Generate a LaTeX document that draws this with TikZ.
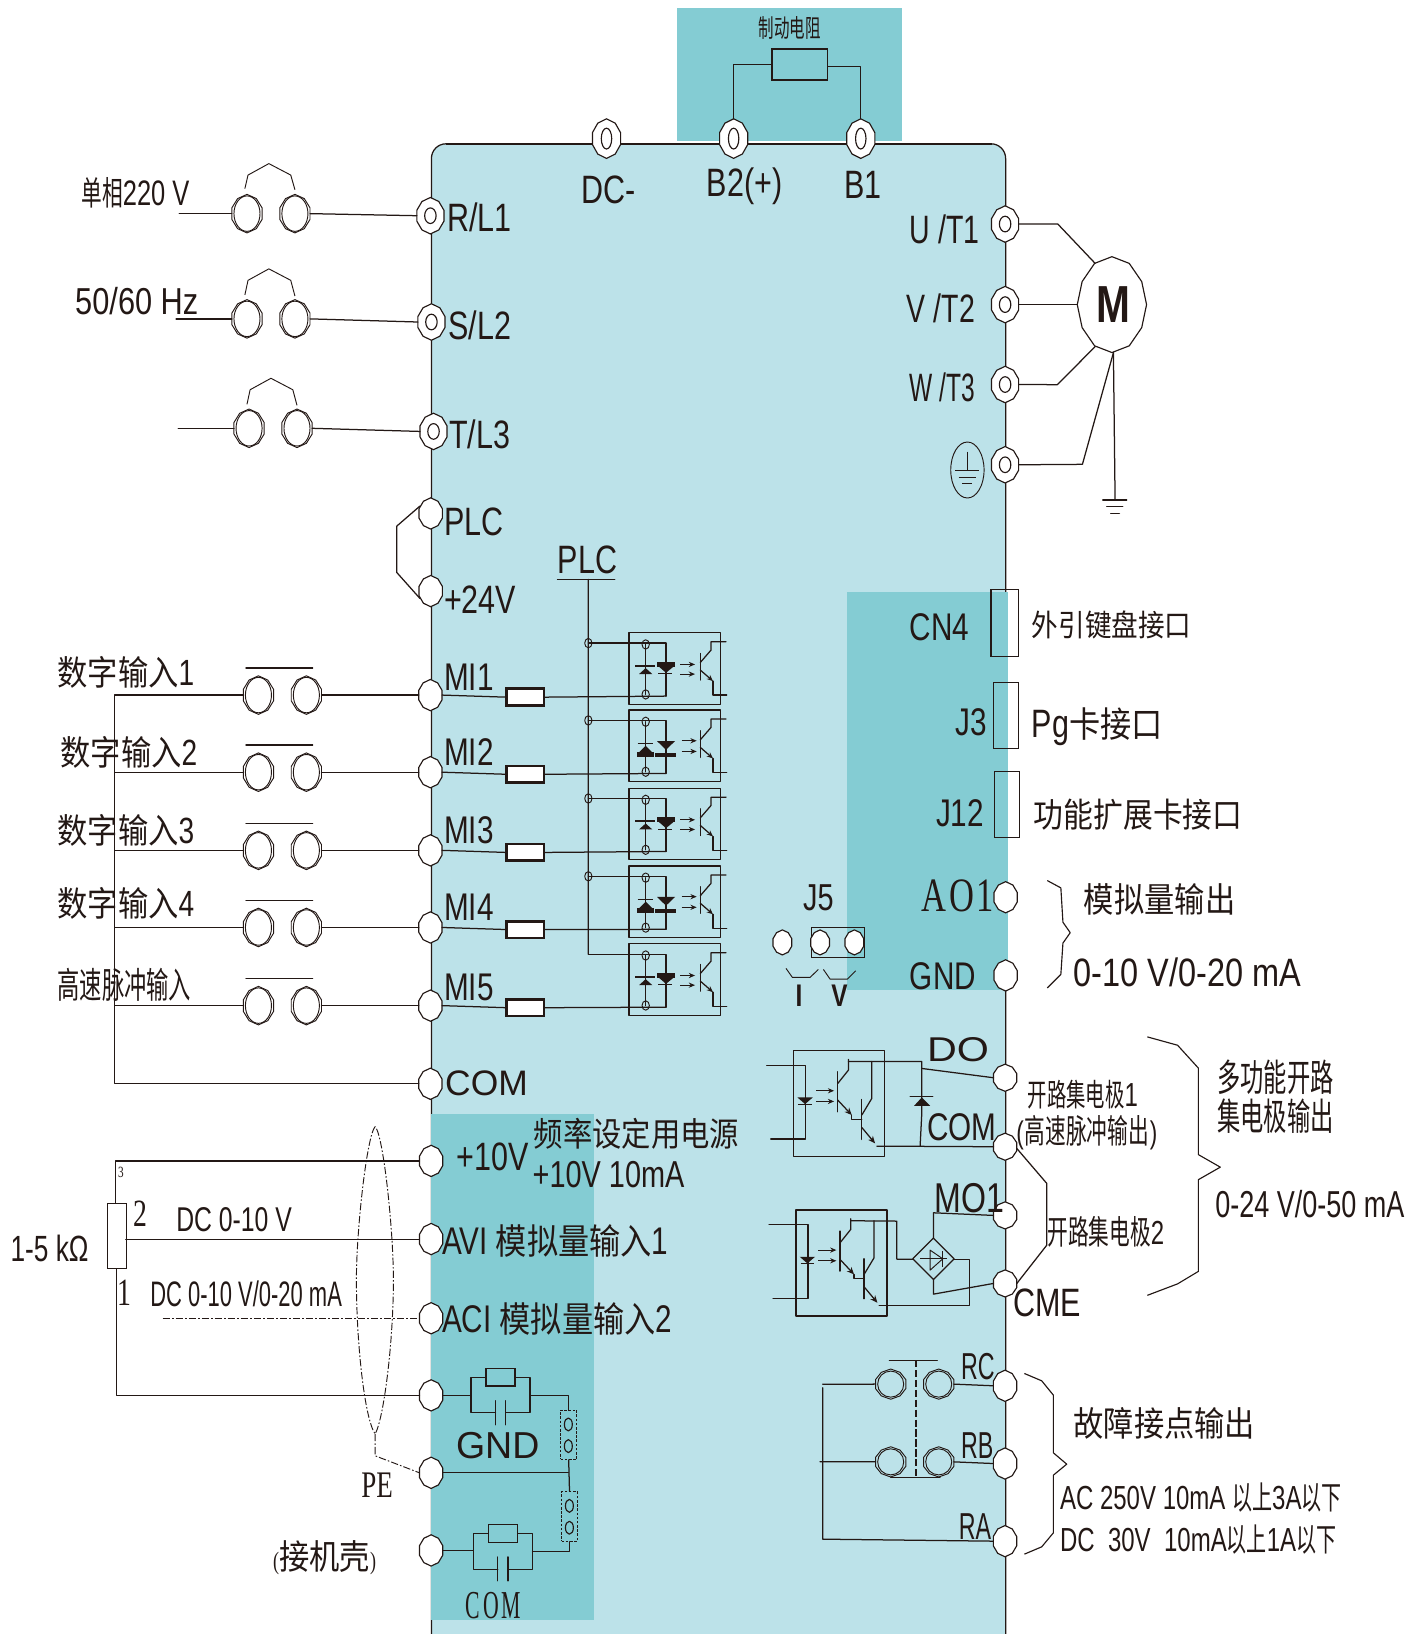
\documentclass[tikz,border=0pt]{standalone}
\usepackage{fontspec}
\usetikzlibrary{arrows.meta,shapes.geometric,calc}
\setmainfont{Liberation Sans}
\newfontfamily\fa{Liberation Sans}[FakeStretch=0.77]
\newfontfamily\fc{Liberation Sans}[FakeStretch=0.72]
\newfontfamily\fd{Liberation Sans}[FakeStretch=0.62]
\newfontfamily\fe{Liberation Sans}[FakeStretch=0.82]
\newfontfamily\fw{Liberation Sans}
\newfontfamily\fww{Liberation Sans}[FakeStretch=1.2]
\newfontfamily\fb{Liberation Sans Bold}[FakeStretch=0.78]
\newfontfamily\fs{Liberation Serif}[FakeStretch=0.72]
\newfontfamily\fsn{Liberation Serif}[FakeStretch=0.55]
\newfontfamily\fz{Noto Sans CJK SC}[FakeStretch=0.88]
\newfontfamily\fn{Noto Sans CJK SC}[FakeStretch=0.62]
\newcommand\sz[1]{\fontsize{#1}{#1}\selectfont}
\definecolor{ink}{HTML}{231815}
\definecolor{bodyc}{HTML}{BCE2E9}
\definecolor{tealc}{HTML}{84CCD3}
\makeatletter
\newdimen\trx \newdimen\try
\pgfdeclareshape{decagon}{
  \inheritsavedanchors[from=ellipse]
  \inheritanchorborder[from=ellipse]
  \inheritanchor[from=ellipse]{center}
  \inheritanchor[from=ellipse]{north}
  \inheritanchor[from=ellipse]{south}
  \inheritanchor[from=ellipse]{east}
  \inheritanchor[from=ellipse]{west}
  \backgroundpath{
    \radius \trx=\pgf@x \try=\pgf@y
    \pgfpathmoveto{\pgfqpoint{0pt}{\try}}
    \pgfpathlineto{\pgfpoint{.62\trx}{.78\try}}
    \pgfpathlineto{\pgfpoint{\trx}{.3\try}}
    \pgfpathlineto{\pgfpoint{\trx}{-.3\try}}
    \pgfpathlineto{\pgfpoint{.62\trx}{-.78\try}}
    \pgfpathlineto{\pgfqpoint{0pt}{-\try}}
    \pgfpathlineto{\pgfpoint{-.62\trx}{-.78\try}}
    \pgfpathlineto{\pgfpoint{-\trx}{-.3\try}}
    \pgfpathlineto{\pgfpoint{-\trx}{.3\try}}
    \pgfpathlineto{\pgfpoint{-.62\trx}{.78\try}}
    \pgfpathclose
  }
}
\pgfdeclareshape{dodecagon}{
  \inheritsavedanchors[from=ellipse]
  \inheritanchorborder[from=ellipse]
  \inheritanchor[from=ellipse]{center}
  \inheritanchor[from=ellipse]{north}
  \inheritanchor[from=ellipse]{south}
  \inheritanchor[from=ellipse]{east}
  \inheritanchor[from=ellipse]{west}
  \backgroundpath{
    \radius \trx=\pgf@x \try=\pgf@y
    \pgfpathmoveto{\pgfqpoint{0pt}{\try}}
    \pgfpathlineto{\pgfpoint{.5\trx}{.86\try}}
    \pgfpathlineto{\pgfpoint{.86\trx}{.48\try}}
    \pgfpathlineto{\pgfpoint{\trx}{0pt}}
    \pgfpathlineto{\pgfpoint{.86\trx}{-.48\try}}
    \pgfpathlineto{\pgfpoint{.5\trx}{-.86\try}}
    \pgfpathlineto{\pgfqpoint{0pt}{-\try}}
    \pgfpathlineto{\pgfpoint{-.5\trx}{-.86\try}}
    \pgfpathlineto{\pgfpoint{-.86\trx}{-.48\try}}
    \pgfpathlineto{\pgfpoint{-\trx}{0pt}}
    \pgfpathlineto{\pgfpoint{-.86\trx}{.48\try}}
    \pgfpathlineto{\pgfpoint{-.5\trx}{.86\try}}
    \pgfpathclose
  }
}
\makeatother
\tikzset{
  wire/.style={draw=ink,line width=1.2pt,line cap=round,line join=round},
  thin wire/.style={draw=ink,line width=.9pt,line join=round},
  term/.style={decagon,draw=ink,fill=white,line width=1.1pt,inner sep=0pt,outer sep=0pt,minimum width=22.4pt,minimum height=30pt},
  rterm/.style={term,minimum width=26pt,minimum height=35pt},
  brk/.style={decagon,draw=ink,line width=.9pt,inner sep=0pt,outer sep=0pt,minimum width=29pt,minimum height=37pt},
  lb/.style={anchor=west,inner sep=0pt,text=ink},
  ctr/.style={anchor=center,inner sep=0pt,text=ink},
  minires/.style={rectangle,draw=ink,fill=white,line width=2.6pt,inner sep=0pt,outer sep=0pt,minimum width=36pt,minimum height=16pt},
  boxr/.style={rectangle,draw=ink,line width=1.2pt,inner sep=0pt,outer sep=0pt},
  arr/.style={-{Stealth[length=6pt,width=5pt]},draw=ink,line width=.9pt},
  dotdash/.style={draw=ink,line width=.9pt,dash pattern=on 7pt off 2pt on 1.5pt off 2pt},
  sw/.style={draw=ink,line width=.9pt,dashed,dash pattern=on 2.5pt off 1.5pt},
  optoA/.pic={
    \begin{scope}[x=.3199pt,y=-.3199pt]
      \draw[wire] (0,0) rectangle (274,215);
      \coordinate (-in) at (111,190);
      \coordinate (-bus) at (-122,31);
      \draw[wire] (-bus) -- (111,31) -- (-in);
      \draw[wire] (50,35) -- (50,185);
      \draw[thin wire] (50,35) ellipse (11 and 14);
      \draw[thin wire] (50,185) ellipse (11 and 14);
      \fill[ink] (19,96) rectangle (78,102);
      \fill[ink] (50,106) -- (70,124) -- (30,124) -- cycle;
      \fill[ink] (85,87) rectangle (137,102);
      \fill[ink] (90,102) -- (133,102) -- (111,120) -- cycle;
      \draw[thin wire] (88,123) -- (130,123);
      \draw[arr] (153,95) -- (198,95);
      \draw[arr] (153,124) -- (198,124);
      \draw[wire] (214,62) -- (214,142);
      \draw[wire] (214,89) -- (246,52) -- (246,27) -- (291,27);
      \draw[wire,-{Stealth[length=6pt,width=5pt]}] (214,112) -- (252,145);
      \draw[wire] (252,145) -- (252,187) -- (293,187);
    \end{scope}
  },
  optoB/.pic={
    \begin{scope}[x=.3199pt,y=-.3199pt]
      \draw[wire] (0,0) rectangle (274,215);
      \coordinate (-in) at (111,190);
      \coordinate (-bus) at (-122,31);
      \draw[wire] (-bus) -- (111,31) -- (-in);
      \draw[wire] (50,35) -- (50,185);
      \draw[thin wire] (50,35) ellipse (11 and 14);
      \draw[thin wire] (50,185) ellipse (11 and 14);
      \draw[thin wire] (26,99) -- (73,99);
      \fill[ink] (50,107) -- (70,127) -- (30,127) -- cycle;
      \fill[ink] (24,127) rectangle (75,141);
      \fill[ink] (84,93) -- (138,93) -- (111,119) -- cycle;
      \fill[ink] (79,129) rectangle (141,141);
      \draw[arr] (158,92) -- (203,92);
      \draw[arr] (158,124) -- (203,124);
      \draw[wire] (214,62) -- (214,142);
      \draw[wire] (214,89) -- (246,52) -- (246,27) -- (291,27);
      \draw[wire,-{Stealth[length=6pt,width=5pt]}] (214,112) -- (252,145);
      \draw[wire] (252,145) -- (252,187) -- (293,187);
    \end{scope}
  },
  darl/.pic={
    \begin{scope}[x=.3199pt,y=-.3199pt]
      \draw[wire] (0,0) rectangle (273,318);
      \draw[wire] (-81,44) -- (36,44) -- (36,265) -- (-69,265);
      \fill[ink] (11,140) -- (57,140) -- (34,160) -- cycle;
      \draw[thin wire] (14,161) -- (54,161);
      \draw[arr] (67,120) -- (121,120);
      \draw[arr] (67,152) -- (121,152);
      \draw[wire] (132,63) -- (132,183);
      \draw[wire] (132,98) -- (164,58) -- (164,26);
      \coordinate (-c) at (164,32);
      \draw[wire] (234,32) -- (234,143) -- (204,193);
      \draw[wire,-{Stealth[length=7pt,width=6pt]}] (132,148) -- (174,193);
      \draw[wire] (174,193) -- (174,206) -- (204,206);
      \draw[wire] (204,146) -- (204,266);
      \draw[wire,-{Stealth[length=7pt,width=6pt]}] (204,230) -- (244,278);
      \coordinate (-e) at (249,286);
    \end{scope}
  }
}
\newcommand\ringterm[3]{%
  \node[rterm] (#1) at (#2,#3) {};
  \draw[thin wire,line width=1.1pt] (#1.center) ellipse (5.5 and 7.5);}
\newcommand\topterm[3]{%
  \node[rterm,minimum width=27pt,minimum height=38pt] (#1) at (#2,#3) {};
  \draw[thin wire,line width=1.1pt] (#1.center) ellipse (5 and 10);}
\newcommand\breaker[3]{%
  \node[brk] (#1) at (#2,#3) {};
  \draw[thin wire] (#1.center) ellipse (12.5 and 17);}
\newcommand\contact[3]{%
  \node[brk,minimum width=29pt,minimum height=29pt] (#1) at (#2,#3) {};
  \draw[thin wire] (#1.center) ellipse (12.5 and 12.5);}
\begin{document}
\begin{tikzpicture}[x=1pt,y=-1pt]
\useasboundingbox (0,0) rectangle (1363,1568);
\clip (0,0) rectangle (1363,1568);
\fill[white] (0,0) rectangle (1363,1568);
% ---------- panels
\draw[wire,fill=bodyc,rounded corners=14pt] (414,138) rectangle (965,1582);
\draw[draw=ink,line width=2pt] (428,138) -- (952,138);
\fill[tealc] (650,8) rectangle (866,135);
\fill[tealc] (813,568) rectangle (967,950);
\fill[tealc] (414,1069) rectangle (570,1555);
% ---------- top terminals and brake resistor
\topterm{dcm}{582}{133}
\topterm{btwo}{704}{133}
\topterm{bone}{826}{133}
\node[rectangle,draw=ink,line width=1.6pt,inner sep=0pt,minimum width=53pt,minimum height=30pt] (bres) at (767.5,62) {};
\draw[wire] (btwo.north) |- ($(bres.west)+(0,0)$);
\draw[wire] (bone.north) |- ($(bres.east)+(0,2)$);
\node[ctr,font=\fn\sz{24}] (tbres) at (758,27) {制动电阻};
\node[lb,font=\fa\sz{38}] (tdc) at (558,182) {DC-};
\node[lb,font=\fa\sz{38}] (tb2) at (678,179) {B2(+)};
\node[lb,font=\fa\sz{38}] (tb1) at (810,177) {B1};
% ---------- mains input
\ringterm{rl}{413}{207}
\ringterm{sl}{414}{309}
\ringterm{tl}{416}{414}
\breaker{a1}{237}{205}\breaker{a2}{283}{205}
\breaker{b1}{237}{306}\breaker{b2}{283}{306}
\breaker{c1}{239}{411}\breaker{c2}{285}{411}
\coordinate (ain) at (172,205);\coordinate (bin) at (169,306);\coordinate (cin) at (171,411);
\draw[wire] (ain) -- (a1.west); \draw[wire] (a2.east) -- (rl.west);
\draw[wire] (bin) -- (b1.west); \draw[wire] (b2.east) -- (sl.west);
\draw[wire] (cin) -- (c1.west); \draw[wire] (c2.east) -- (tl.west);
\draw[thin wire] (235,181) -- (238,168) -- (258,157) -- (279,168) -- (283,182);
\draw[thin wire] (235,283) -- (238,269) -- (258,258) -- (279,269) -- (283,284);
\draw[thin wire] (237,388) -- (240,374) -- (260,363) -- (281,374) -- (285,389);
\node[lb,font=\fc\sz{34}] (t220) at (78,185) {{\fn\sz{32}单相}220 V};
\node[lb,font=\fe\sz{36}] (t50) at (72,289) {50/60 Hz};
\node[lb,font=\fa\sz{38}] (trl) at (429,209) {R/L1};
\node[lb,font=\fa\sz{38}] (tsl) at (430,312) {S/L2};
\node[lb,font=\fa\sz{38}] (ttl) at (431,417) {T/L3};
% ---------- PLC jumper
\node[term] (plc) at (413.3,492.7) {};
\node[term] (p24) at (413.3,567.2) {};
\draw[wire] (403,485.6) -- (380.7,504.9) -- (380.7,549.3) -- (403,574.3);
\node[lb,font=\fa\sz{38}] (tplc) at (426,501) {PLC};
\node[lb,font=\fa\sz{38}] (t24) at (426,575) {+24V};
% ---------- digital inputs
\foreach \n/\yy/\ry in {1/667/669,2/741/743,3/816/818,4/890/892,5/965/967}{
  \node[term] (m\n) at (413,\yy) {};
  \breaker{i\n}{248}{\yy}
  \breaker{j\n}{294}{\yy}
  \node[minires] (r\n) at (504,\ry) {};
  \draw[wire] (j\n.east) -- (m\n.west);
  \draw[wire] (m\n.east) -- (r\n.west);
  \coordinate (ll\n) at (110,\yy);
  \draw[wire] (ll\n) -- (i\n.west);
  \coordinate (ba\n) at (236,\yy-26);
  \coordinate (bb\n) at (300,\yy-26);
  \draw[wire] (ba\n) -- (bb\n);
}
\pic (o1) at (603.6,607.2) {optoA};
\pic (o2) at (603.6,681.4) {optoB};
\pic (o3) at (603.6,756.3) {optoA};
\pic (o4) at (603.6,831) {optoB};
\pic (o5) at (603.6,905.7) {optoA};
\foreach \n in {1,...,5}{\draw[wire] (r\n.east) -- (o\n-in);}
\coordinate (plcbar) at (564.6,556);
\draw[wire] (plcbar) -- (o5-bus);
\draw[wire] (535,556) -- (590,556);
\foreach \n in {1,...,4}{\draw[thin wire] (o\n-bus) ellipse (3.5 and 4.5);}
\node[lb,font=\fa\sz{38}] (tplcb) at (535,537) {PLC};
\foreach \n/\yy in {1/650,2/722,3/797,4/871,5/948}{
  \node[lb,font=\fa\sz{37}] (tm\n) at (426,\yy) {MI\n};
}
\node[lb,font=\fa\sz{35}] (tin1) at (55,645) {{\fz\sz{33}数字输入}1};
\node[lb,font=\fa\sz{35}] (tin2) at (58,722) {{\fz\sz{33}数字输入}2};
\node[lb,font=\fa\sz{35}] (tin3) at (55,797) {{\fz\sz{33}数字输入}3};
\node[lb,font=\fa\sz{35}] (tin4) at (55,867) {{\fz\sz{33}数字输入}4};
\node[lb,font=\fn\sz{34.5}] (tin5) at (55,945) {高速脉冲输入};
\node[term] (comt) at (413,1040) {};
\draw[wire] (ll1) -- (110,1040) -- (comt.west);
\node[lb,font=\fw\sz{34}] (tcom) at (427,1040) {COM};
% ---------- analog inputs
\node[term] (ten) at (413.7,1114) {};
\node[term] (avi) at (413.7,1189) {};
\node[term] (aci) at (413.7,1265) {};
\node[term] (gnd) at (413.7,1339) {};
\node[term] (pe) at (413.7,1413.3) {};
\node[term] (com) at (413.7,1487.8) {};
\node[rectangle,draw=ink,line width=1.1pt,inner sep=0pt,minimum width=18.5pt,minimum height=63pt] (pot) at (112,1186) {};
\draw[wire] (ten.west) -| (110.8,1154.5);
\draw[wire,line width=.9pt] (avi.west) -- (120.5,1189);
\draw[wire] (112,1217.5) |- (gnd.west);
\coordinate (acis) at (156,1265);
\draw[dotdash] (acis) -- (aci.west);
\draw[dotdash] (360,1081) .. controls (352,1090) and (342,1180) .. (342,1228) .. controls (342,1290) and (350,1362) .. (360,1376) .. controls (368,1362) and (377.5,1290) .. (377.5,1228) .. controls (377.5,1180) and (368,1090) .. (360,1081);
\draw[dotdash] (360,1376) -- (360,1397) -- (pe.west);
\node[ctr,font=\fs\sz{15}] (t3) at (116,1125) {3};
\node[ctr,font=\fs\sz{37}] (t2) at (135,1165) {2};
\node[ctr,font=\fs\sz{37}] (t1) at (119,1241) {1};
\node[lb,font=\fc\sz{35}] (tk) at (10,1198) {1-5 kΩ};
\node[lb,font=\fc\sz{33}] (tdc1) at (169,1170) {DC 0-10 V};
\node[lb,font=\fd\sz{34}] (tdc2) at (144,1242) {DC 0-10 V/0-20 mA};
\node[ctr,font=\fs\sz{36}] (tpe) at (362,1425) {PE};
\node[lb,font=\fs\sz{24}] (tke) at (262,1495) {({\fz\sz{33}接机壳})};
\node[lb,font=\fa\sz{38}] (t10) at (438,1110) {+10V};
\node[lb,font=\fz\sz{32}] (tpow) at (512,1088) {频率设定用电源};
\node[lb,font=\fa\sz{36}] (t10m) at (511,1127) {+10V 10mA};
\node[lb,font=\fa\sz{37}] (tavi) at (424,1191) {AVI {\fz\sz{34}模拟量输入}1};
\node[lb,font=\fa\sz{37}] (taci) at (424,1266) {ACI {\fz\sz{34}模拟量输入}2};
% RC networks and shorting links
\node[rectangle,draw=ink,line width=1.3pt,inner sep=0pt,minimum width=27.8pt,minimum height=17pt] (rg) at (480.3,1321.5) {};
\node[rectangle,draw=ink,line width=1.3pt,inner sep=0pt,minimum width=27.8pt,minimum height=17pt] (rc) at (482.6,1471.5) {};
\draw[wire] (gnd.east) -- (452,1339);
\draw[wire] (rg.west) -- (452,1321.5) -- (452,1355.7) -- (475.4,1355.7);
\draw[wire] (rg.east) -- (508.6,1321.5) -- (508.6,1355.7) -- (485.3,1355.7);
\draw[wire] (475.4,1344.2) -- (475.4,1367.2);
\draw[wire] (485.3,1344.2) -- (485.3,1367.2);
\draw[wire] (com.east) -- (454.2,1487.8);
\draw[wire] (rc.west) -- (454.2,1471.5) -- (454.2,1505.8) -- (477.6,1505.8);
\draw[wire] (rc.east) -- (510.9,1471.5) -- (510.9,1505.8) -- (487.5,1505.8);
\draw[wire] (477.6,1494) -- (477.6,1517);
\draw[wire] (487.5,1494) -- (487.5,1517);
\node[rectangle,sw,inner sep=0pt,minimum width=15.3pt,minimum height=47.3pt] (l1) at (545.7,1376.8) {};
\node[rectangle,sw,inner sep=0pt,minimum width=15pt,minimum height=47.4pt] (l2) at (546.5,1455.2) {};
\draw[thin wire,line width=1.1pt] (545.4,1366.9) ellipse (3.8 and 6.2);
\draw[thin wire,line width=1.1pt] (545.4,1387.7) ellipse (3.8 and 6.2);
\draw[thin wire,line width=1.1pt] (546.4,1445) ellipse (3.8 and 6.2);
\draw[thin wire,line width=1.1pt] (546.4,1466) ellipse (3.8 and 6.2);
\draw[wire] (508.6,1339.4) -| (l1.north);
\draw[wire] (pe.east) -- (545.4,1413.3);
\draw[wire] (l1.south) -- (l2.north);
\draw[wire] (l2.south) |- (510.9,1489);
\node[ctr,font=\fw\sz{36}] (tgnd) at (477.6,1386.7) {GND};
\node[ctr,font=\fsn\sz{38}] (tcomb) at (473.4,1541) {C\kern3pt O\kern3pt M};
% ---------- motor side
\ringterm{ut}{964.5}{215}
\ringterm{vt}{964.5}{292.3}
\ringterm{wt}{964.5}{369}
\ringterm{et}{964.5}{446}
\node[dodecagon,draw=ink,fill=white,line width=1.1pt,inner sep=0pt,outer sep=0pt,minimum width=66.5pt,minimum height=92pt] (mot) at (1067,292.3) {};
\node[ctr,font=\fb\sz{50}] (tmot) at (1068,292.3) {M};
\begin{scope}[shift={(863.7,172.7)},x=.3199pt,y=-.3199pt]
  \coordinate (mu) at (585,250);\coordinate (mw) at (585,500);\coordinate (mb) at (640,518);
  \coordinate (gd) at (645,958);
  \draw[wire] (ut.east) -- (473,132) -- (mu);
  \draw[wire] (vt.east) -- (mot.west);
  \draw[wire] (wt.east) -- (472,614) -- (mw);
  \draw[wire] (et.east) -- (547,853) -- (mb);
  \draw[wire] (mb) -- (gd);
  \draw[wire] (608,960) -- (680,960);
  \draw[wire] (620,980) -- (668,980);
  \draw[wire] (632,1000) -- (658,1000);
  \draw[thin wire] (202,870) ellipse (50 and 84);
  \draw[thin wire] (202,815) -- (202,870);
  \draw[thin wire] (166,872) -- (238,872);
  \draw[thin wire] (176,892) -- (228,892);
  \draw[thin wire] (187,911) -- (215,911);
\end{scope}
\node[lb,font=\fc\sz{38}] (tu) at (873,220) {U /T1};
\node[lb,font=\fc\sz{38}] (tv) at (870,296) {V /T2};
\node[lb,font=\fd\sz{38}] (tw) at (873,372) {W /T3};
% ---------- card connectors
\node[boxr,fill=none,minimum width=26pt,minimum height=64pt] (cn) at (964,598) {};
\node[boxr,minimum width=24pt,minimum height=63pt] (j3) at (965,686.5) {};
\node[boxr,minimum width=24pt,minimum height=64pt] (j12) at (966,772) {};
\node[lb,font=\fa\sz{37}] (tcn) at (873,602) {CN4};
\node[lb,font=\fa\sz{37}] (tj3) at (917,693) {J3};
\node[lb,font=\fa\sz{37}] (tj12) at (898,780) {J12};
\node[lb,font=\fz\sz{29}] (tcnz) at (990,600) {外引键盘接口};
\node[lb,font=\fa\sz{38}] (tj3z) at (990,697) {Pg{\fz\sz{34}卡接口}};
\node[lb,font=\fz\sz{32.5}] (tj12z) at (992,782) {功能扩展卡接口};
\node[term] (aot) at (965,861) {};
\node[term] (gt) at (965,936) {};
\node[lb,font=\fs\sz{46}] (tao) at (884,860) {A\kern3pt O\kern2pt 1};
\node[lb,font=\fa\sz{37}] (tgt) at (873,937) {GND};
\draw[thin wire,line width=1.1pt] (1005,845) -- (1018,852) -- (1020,885) -- (1027,895) -- (1020,905) -- (1018,935) -- (1005,948);
\node[lb,font=\fz\sz{33}] (tao1) at (1040,863) {模拟量输出};
\node[lb,font=\fe\sz{38}] (tao2) at (1030,933) {0-10 V/0-20 mA};
% ---------- J5
\begin{scope}[shift={(537.4,575.8)},x=.3199pt,y=-.3199pt]
  \node[term,minimum width=18pt,minimum height=24pt] (j5a) at (667,1027) {};
  \node[boxr,minimum width=51pt,minimum height=28.5pt] (j5b) at (833.7,1027.5) {};
  \node[term,minimum width=18pt,minimum height=24pt] (j5c) at (780,1027) {};
  \node[term,minimum width=18pt,minimum height=24pt] (j5d) at (883,1027) {};
  \draw[thin wire] (678,1105) -- (697,1132) -- (750,1132) -- (775,1108);
  \draw[thin wire] (790,1108) -- (810,1137) -- (862,1137) -- (887,1112);
  \node[ctr,font=\fa\sz{36}] (tj5) at (775,893) {J5};
  \node[ctr,font=\fb\sz{30}] (tI) at (717,1188) {I};
  \node[ctr,font=\fb\sz{30}] (tV) at (838,1188) {V};
\end{scope}
% ---------- digital outputs
\node[term,minimum height=26pt] (dot) at (964.5,1034.2) {};
\node[term,minimum height=26pt] (cot) at (964.5,1100.4) {};
\node[term,minimum height=26pt] (mot1) at (964.5,1166.3) {};
\node[term,minimum height=26pt] (cmt) at (964.5,1231.6) {};
\pic (q1) at (761.7,1008.3) {darl};
\pic (q2) at (763.9,1161.2) {darl};
\begin{scope}[shift={(710.2,978.9)},x=.3199pt,y=-.3199pt]
  \coordinate (e1) at (410,378);
  \draw[wire] (q1-c) -- (545,124) -- (545,145);
  \draw[wire] (545,145) -- (dot.west);
  \draw[wire] (545,145) -- (545,280) -- (540,378);
  \draw[wire] (e1) -- (cot.west);
  \draw[wire] (510,230) -- (578,230);
  \fill[ink] (545,232) -- (570,257) -- (522,257) -- cycle;
  \draw[wire] (q2-c) -- (470,603) -- (470,717) -- (518,717);
  \draw[wire,fill=none] (580,654) -- (642,716) -- (580,778) -- (518,716) -- cycle;
  \draw[thin wire] (540,716) -- (620,716);
  \draw[thin wire] (570,690) -- (570,750) -- (608,716) -- cycle;
  \draw[thin wire] (608,692) -- (608,742);
  \draw[wire] (580,654) -- (580,578) -- (mot1.west);
  \draw[wire] (580,778) -- (580,822) -- (cmt.west);
  \draw[wire] (642,718) -- (688,718) -- (688,857) -- (417,857);
  \draw[wire] (830,385) -- (920,490) -- (920,675) -- (830,790);
  \node[ctr,font=\fww\sz{33}] (tdo) at (654,88) {DO};
  \node[ctr,font=\fa\sz{37}] (tco) at (665,321) {COM};
  \node[ctr,font=\fa\sz{40}] (tmo) at (688,535) {MO1};
\end{scope}
\node[lb,font=\fa\sz{38}] (tcme) at (972,1250) {CME};
\node[lb,font=\fc\sz{32}] (to1) at (986,1050) {{\fn\sz{30}开路集电极}1};
\node[lb,font=\fc\sz{30}] (to2) at (975,1087) {(\kern1pt{\fn\sz{32}高速脉冲输出}\kern1pt)};
\node[lb,font=\fc\sz{32}] (to3) at (1005,1182) {{\fn\sz{32}开路集电极}2};
\draw[thin wire,line width=1.1pt] (1101,995) -- (1130,1003) -- (1150,1025) -- (1150,1108) -- (1171,1120) -- (1150,1132) -- (1150,1220) -- (1130,1232) -- (1101,1243);
\node[lb,font=\fn\sz{36}] (to4) at (1168,1034) {多功能开路};
\node[lb,font=\fn\sz{36}] (to5) at (1168,1071) {集电极输出};
\node[lb,font=\fc\sz{36}] (to6) at (1166,1155) {0-24 V/0-50 mA};
% ---------- relay
\node[term] (rct) at (964.4,1329.8) {};
\node[term] (rbt) at (964.4,1404.4) {};
\node[term] (rat) at (964.4,1478.9) {};
\contact{k1}{854.7}{1328.2}\contact{k2}{900.8}{1328.2}
\contact{k3}{854.7}{1402.8}\contact{k4}{900.8}{1402.8}
\begin{scope}[shift={(767.7,1286)},x=.3199pt,y=-.3199pt]
  \coordinate (ka) at (68,132);\coordinate (kb) at (68,143);\coordinate (kc) at (60,365);
  \draw[wire] (ka) -- (k1.west);
  \draw[wire] (kc) -- (k3.west);
  \draw[wire] (kb) -- (68,597) -- (rat.west);
  \draw[wire] (k2.east) -- (rct.west);
  \draw[wire] (k4.east) -- (rbt.west);
  \draw[wire] (268,60) -- (412,60);
  \draw[wire] (272,412) -- (420,412);
  \draw[thin wire,line width=1.1pt,dash pattern=on 7pt off 2.5pt] (348,60) -- (348,408);
  \draw[thin wire,line width=1.1pt] (673,100) -- (725,122) -- (760,165) -- (760,338) -- (800,372) -- (760,405) -- (760,578) -- (725,620) -- (673,642);
\end{scope}
\node[lb,font=\fd\sz{36}] (trc) at (922,1311) {RC};
\node[lb,font=\fd\sz{36}] (trb) at (922,1387) {RB};
\node[lb,font=\fd\sz{36}] (tra) at (920,1465) {RA};
\node[lb,font=\fz\sz{33}] (tfa) at (1030,1366) {故障接点输出};
\node[lb,font=\fc\sz{32}] (tac) at (1017,1437) {AC 250V 10mA {\fn\sz{31}以上}3A{\fn\sz{31}以下}};
\node[lb,font=\fc\sz{32}] (tdcr) at (1017,1477) {DC\ \ 30V\ \ 10mA{\fn\sz{31}以上}1A{\fn\sz{31}以下}};
\end{tikzpicture}
\end{document}
